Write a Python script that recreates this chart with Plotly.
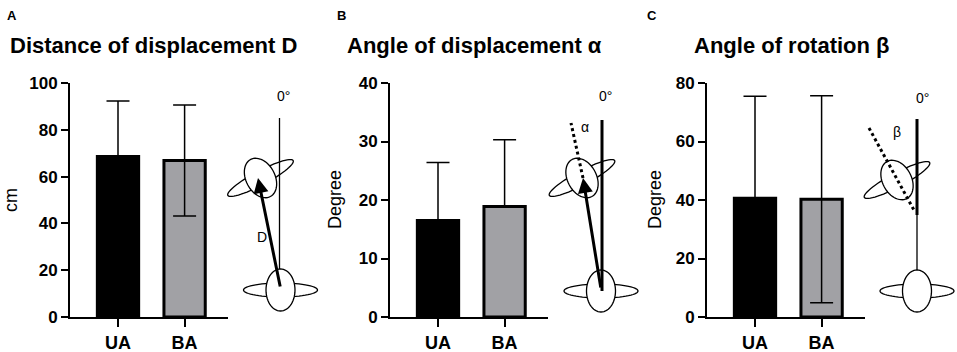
import numpy as np
import plotly.graph_objects as go

W, H = 957, 352

# ---------------- data ----------------
groups = ["UA", "BA"]
dist_mean = [68.6, 66.9]
dist_sd = [23.7, 23.7]
alpha_mean = [16.5, 18.9]
alpha_sd = [9.9, 11.4]
beta_mean = [40.6, 40.25]
beta_sd = [34.9, 35.35]
bar_colors = ["#000000", "#a1a1a5"]

panel_titles = ["Distance of displacement D", "Angle of displacement α", "Angle of rotation β"]
panel_letters = ["A", "B", "C"]
y_titles = ["cm", "Degree", "Degree"]
y_max = [100, 40, 80]
y_dtick = [20, 10, 20]
show_lower_err = [True, False, True]

FONT = "Arial, Liberation Sans, sans-serif"


def px(x):
    return x / W


def py(y):
    return 1 - y / H


axis_x = [(70, 228), (390, 548), (707, 865)]
plot_top, plot_bot = 83, 317

fig = go.Figure()
means = [dist_mean, alpha_mean, beta_mean]
sds = [dist_sd, alpha_sd, beta_sd]

for i in range(3):
    xa = "x" if i == 0 else f"x{i+1}"
    ya = "y" if i == 0 else f"y{i+1}"
    err = dict(type="data", array=sds[i], color="black", thickness=1.5, width=11.5, symmetric=False,
               arrayminus=sds[i] if show_lower_err[i] else [0] * len(sds[i]))
    fig.add_trace(go.Bar(
        x=list(range(len(groups))), y=means[i],
        marker=dict(color=bar_colors, line=dict(color="black", width=3)),
        width=0.62,
        error_y=err,
        xaxis=xa, yaxis=ya, showlegend=False, hoverinfo="skip",
    ))
    l, r = axis_x[i]
    unit = 66.6
    x0 = -(48.0 / unit)
    x1 = x0 + (r - l) / unit
    yt = list(range(0, y_max[i] + 1, y_dtick[i]))
    xkey = "xaxis" if i == 0 else f"xaxis{i+1}"
    ykey = "yaxis" if i == 0 else f"yaxis{i+1}"
    fig.update_layout(**{
        xkey: dict(domain=[px(l), px(r)], range=[x0, x1], anchor=ya, automargin=False,
                   tickvals=list(range(len(groups))), ticktext=[f"<b>{g}</b>" for g in groups],
                   showline=True, linecolor="black", linewidth=2,
                   ticks="outside", ticklen=8, tickwidth=2, tickcolor="black",
                   tickfont=dict(family=FONT, size=18, color="black"),
                   showgrid=False, zeroline=False, fixedrange=True),
        ykey: dict(domain=[py(plot_bot), py(plot_top)], range=[0, y_max[i]], anchor=xa, automargin=False,
                   tickvals=yt, ticktext=[f"<b>{v}</b>" for v in yt],
                   showline=True, linecolor="black", linewidth=2,
                   ticks="outside", ticklen=7, tickwidth=2, tickcolor="black",
                   tickfont=dict(family=FONT, size=17, color="black"),
                   showgrid=False, zeroline=False, fixedrange=True),
    })

annotations = []
letter_x = [5, 335, 645]
title_x = [8, 345, 692]
ytitle_x = [11, 335, 655]
for i in range(3):
    annotations.append(dict(text=f"<b>{panel_letters[i]}</b>", x=px(letter_x[i]), y=py(16), xref="paper", yref="paper",
                            xanchor="left", yanchor="middle", showarrow=False,
                            font=dict(family=FONT, size=13, color="black")))
    annotations.append(dict(text=f"<b>{panel_titles[i]}</b>", x=px(title_x[i]), y=py(46), xref="paper", yref="paper",
                            xanchor="left", yanchor="middle", showarrow=False,
                            font=dict(family=FONT, size=22, color="black")))
    annotations.append(dict(text=y_titles[i], x=px(ytitle_x[i]), y=py(200), xref="paper", yref="paper",
                            xanchor="center", yanchor="middle", showarrow=False, textangle=-90,
                            font=dict(family=FONT, size=18, color="black")))

shapes = []


def ellipse_path(cx, cy, a, b, ang_deg):
    th = np.deg2rad(ang_deg)
    u = np.array([np.cos(th), -np.sin(th)])
    v = np.array([np.sin(th), np.cos(th)])
    t = np.linspace(0, 2 * np.pi, 61)
    pts = [np.array([cx, cy]) + a * np.cos(tt) * u + b * np.sin(tt) * v for tt in t]
    return "M " + " L ".join(f"{px(p[0]):.5f},{py(p[1]):.5f}" for p in pts) + " Z"


def add_fish(cx, cy, rot):
    shapes.append(dict(type="path", path=ellipse_path(cx, cy, 37, 7, rot), xref="paper", yref="paper",
                       fillcolor="white", line=dict(color="black", width=1.3), layer="above"))
    shapes.append(dict(type="path", path=ellipse_path(cx, cy, 21, 14.5, rot + 90), xref="paper", yref="paper",
                       fillcolor="white", line=dict(color="black", width=1.3), layer="above"))


def add_line(x0, y0, x1, y1, width, dash="solid"):
    shapes.append(dict(type="line", x0=px(x0), y0=py(y0), x1=px(x1), y1=py(y1), xref="paper", yref="paper",
                       line=dict(color="black", width=width, dash=dash), layer="above"))


def add_text(t, x, y, size=14):
    annotations.append(dict(text=t, x=px(x), y=py(y), xref="paper", yref="paper", showarrow=False,
                            xanchor="center", yanchor="middle", font=dict(family=FONT, size=size, color="black")))


def add_arrow(xt, yt, xtip, ytip):
    annotations.append(dict(text="", x=px(xtip), y=py(ytip), xref="paper", yref="paper",
                            ax=xt - xtip, ay=yt - ytip, showarrow=True, arrowhead=2, arrowsize=1,
                            arrowwidth=3, arrowcolor="black", standoff=0, startstandoff=0))


# Panel A diagram
cx, cy = 280.5, 290
add_fish(cx, cy, 0)
add_fish(cx - 20, cy - 112, 28)
add_line(cx - 1, 118, cx - 1, cy - 21, 1.3)
add_arrow(cx, cy - 2, 258, 178)
add_text("D", 262, 237)
add_text("0°", 283, 96)

# Panel B diagram
cx, cy = 601, 291
add_fish(cx, cy, 0)
add_fish(cx - 19, cy - 113, 28)
add_line(602, 120, 602, cy, 3)
add_line(583, 178, 571, 123, 3, "dot")
add_arrow(cx, cy - 2, 583, 178)
add_text("α", 585, 127)
add_text("0°", 605, 96)

# Panel C diagram
cx, cy = 917, 291
add_fish(cx, cy, 0)
add_fish(897, 180, 28)
add_line(917, 215, 917, cy - 21, 1.3)
add_line(917, 119, 917, 215, 3)
add_line(869, 128, 915, 212, 3, "dot")
add_text("β", 897, 132)
add_text("0°", 922, 98)

fig.update_layout(
    width=W, height=H,
    margin=dict(l=0, r=0, t=0, b=0, pad=0, autoexpand=False),
    paper_bgcolor="white", plot_bgcolor="white",
    annotations=annotations, shapes=shapes,
    font=dict(family=FONT, color="black"),
    hovermode=False,
)

fig.write_html("out.html", config={"displayModeBar": False, "staticPlot": True},
               post_script="document.body.style.margin='0px';document.body.style.padding='0px';")
